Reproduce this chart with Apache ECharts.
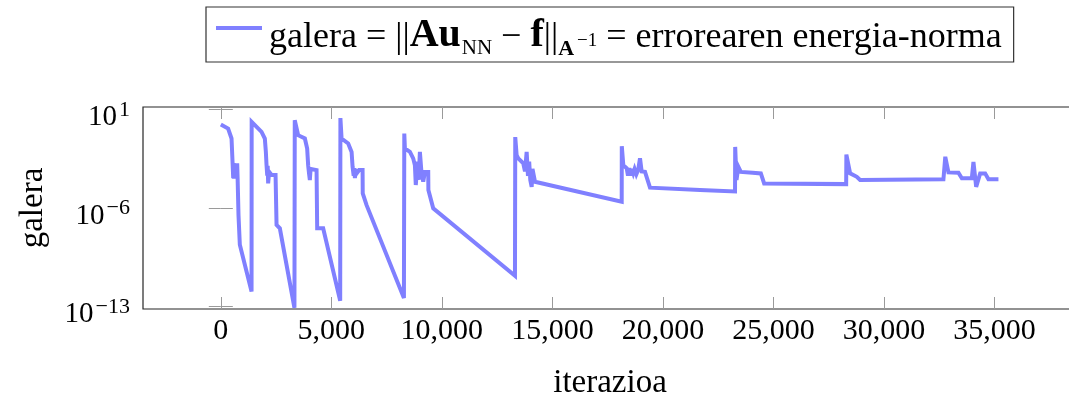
<!DOCTYPE html>
<html>
<head>
<meta charset="utf-8">
<script src="https://cdn.jsdelivr.net/npm/echarts@6/dist/echarts.min.js"></script>
<style>
html,body{margin:0;padding:0;background:#fff;}
#chart{width:1069px;height:396px;}
</style>
</head>
<body>
<div id="chart"></div>
<script>
// ---- data ----
const iterazioa = [
  0, 330, 484, 530, 560, 580, 600, 620, 640, 660, 680, 700, 720, 740, 760, 783, 800, 860, 1390,
  1395, 1842, 1991, 2037, 2068, 2100, 2120, 2141, 2186, 2295, 2476, 2521, 2670, 3330,
  3345, 3499, 3802, 3906, 3951, 3990, 4028, 4060, 4105, 4331, 4359, 4630, 5400,
  5410, 5463, 5762, 5916, 5961, 6010, 6040, 6065, 6120, 6155, 6259, 6413, 6420, 6594, 8283,
  8300, 8328, 8405, 8554, 8631, 8703, 8780, 8820, 8900, 8950, 9006, 9080, 9156, 9233, 9383, 9390, 9609, 13307,
  13320, 13383, 13456, 13682, 13760, 13836, 13895, 13950, 14000, 14063, 14100, 14135, 14212, 18136,
  18140, 18209, 18363, 18420, 18480, 18540, 18600, 18660, 18720, 18800, 18880, 18964, 19040, 19113, 19190, 19416, 21679, 23263,
  23270, 23330, 23413, 23526, 24055, 24431, 24580, 28291,
  28300, 28470, 28773, 28922, 32691, 32768,
  32775, 32918, 33370, 33524, 33976, 34049, 34172, 34353, 34579, 34728, 35180
];
const galera = [
  0.86, 0.45, 0.088, 1.9e-3, 1.3e-4, 1.6e-3, 1.2e-4, 1.4e-3, 1.3e-4, 1.5e-3, 1.2e-4, 1.4e-3, 1.3e-4, 1.5e-3, 1.2e-4, 1.3e-4, 3e-7, 2.4e-9, 1.15e-12,
  1.32, 0.26, 0.088, 9.8e-3, 1.1e-3, 2e-4, 1e-3, 5.6e-5, 3.7e-4, 2.2e-4, 2.2e-4, 6.3e-8, 3.6e-8, 8e-14,
  1.74, 0.15, 0.088, 0.017, 1.1e-3, 3e-4, 9.8e-5, 6e-4, 5e-4, 5e-4, 3.6e-8, 3.6e-8, 2.5e-13,
  2.5, 0.088, 0.039, 9.8e-3, 8.5e-4, 2e-4, 7e-4, 1.35e-4, 6e-4, 3e-4, 5e-4, 5e-4, 1.1e-5, 1.6e-6, 4e-13,
  0.2, 0.017, 0.013, 9.8e-3, 7.6e-3, 3.4e-3, 1.1e-3, 4.3e-5, 2e-3, 1e-4, 9.8e-3, 3e-4, 7.4e-5, 3.7e-4, 3.7e-4, 1.9e-5, 9.5e-7, 1.5e-11,
  0.11, 5.7e-3, 3.4e-3, 1.5e-3, 4e-4, 9.8e-3, 1.9e-4, 2e-3, 1e-4, 3.2e-5, 6e-4, 5e-4, 7.4e-5, 2.8e-6,
  0.025, 1.1e-3, 6.6e-4, 2e-4, 7e-4, 2e-4, 6e-4, 3e-4, 6e-4, 2.5e-4, 5e-4, 3.4e-3, 4e-4, 3.7e-4, 3.7e-4, 2.8e-5, 1.9e-5, 1.5e-5,
  0.022, 1e-4, 8.5e-4, 3.7e-4, 3.2e-4, 2.9e-4, 5.6e-5, 5e-5,
  6.3e-3, 2.9e-4, 1.65e-4, 9.8e-5, 1.1e-4, 9.8e-5,
  4.4e-3, 3.4e-4, 3.2e-4, 1.3e-4, 1.3e-4, 1.9e-3, 3.2e-5, 2.9e-4, 2.9e-4, 1.1e-4, 1.1e-4
];
const xTicks = [0, 5000, 10000, 15000, 20000, 25000, 30000, 35000];
const yTicks = [1e-13, 1e-6, 1e1];
const xRange = [-3521, 38734];
const yRangeExp = [-13.184, 1.184];

// ---- chart ----
const FONT = '"Liberation Serif", "DejaVu Serif", serif';
const chart = echarts.init(document.getElementById('chart'), null, {renderer: 'canvas'});
const seriesData = iterazioa.map((x, i) => [x, galera[i]]);

function fmtX(v) { return String(v).replace(/\B(?=(\d{3})+(?!\d))/g, ','); }
function fmtY(v) {
  const e = Math.round(Math.log10(v));
  return '{b|10}{s|' + (e < 0 ? '\u2212' + (-e) : e) + '}';
}

const tickStyle = {show: true, inside: true, length: 12, lineStyle: {color: '#9a9a9a', width: 1}};
const labelRichY = {
  b: {fontFamily: FONT, fontSize: 29, lineHeight: 29, color: '#000', verticalAlign: 'top', padding: [8, 0, 0, 0]},
  s: {fontFamily: FONT, fontSize: 22, lineHeight: 22, color: '#000', verticalAlign: 'top', padding: [4, 0, 11, 2]}
};
function tok(size, weight, pad) {
  return {fontFamily: FONT, fontSize: size, lineHeight: size, fontWeight: weight, color: '#000', verticalAlign: 'top', padding: pad};
}

const option = {
  animation: false,
  backgroundColor: '#fff',
  grid: {left: 143, right: -8, top: 107, bottom: 87, outerBoundsMode: 'none', containLabel: false,
         show: true, borderColor: '#262626', borderWidth: 1.2, backgroundColor: 'transparent'},
  legend: {
    left: 206, top: 7,
    padding: [1, 12, 2, 10],
    borderColor: '#333', borderWidth: 1.2,
    backgroundColor: '#fff',
    icon: 'rect', itemWidth: 46, itemHeight: 4,
    data: [{name: 'galera', itemStyle: {color: '#8080ff'}}],
    formatter: function () {
      return '{t0|galera = }{bar|||}{b|Au}{sub|NN}{t| \u2212 }{b|f}{bar|||}{bs|A}{sup|\u22121}{t| = errorearen energia-norma}';
    },
    textStyle: {
      fontFamily: FONT, fontSize: 36, color: '#000',
      rich: {
        t0: tok(36, 'normal', [11.5, 0, 4.5, 2]),
        t: tok(36, 'normal', [11.5, 0, 4.5, 0]),
        bar: tok(36, 'normal', [11.5, 0, 4.5, 0]),
        b: tok(40, 'bold', [8, 0, 4, 0]),
        sub: tok(21, 'normal', [30, 0, 1, 1]),
        bs: tok(22, 'bold', [30, 0, 0, 0]),
        sup: tok(19, 'normal', [24, 0, 9, 3])
      }
    }
  },
  xAxis: [
    {
      type: 'value', position: 'bottom', min: xRange[0], max: xRange[1],
      name: 'iterazioa', nameLocation: 'middle', nameGap: 58,
      nameTextStyle: {fontFamily: FONT, fontSize: 33, color: '#000'},
      axisLine: {show: false}, splitLine: {show: false},
      axisTick: Object.assign({customValues: xTicks}, tickStyle),
      axisLabel: {customValues: xTicks, formatter: fmtX, fontFamily: FONT, fontSize: 30, color: '#000', margin: 7}
    },
    {
      type: 'value', position: 'top', min: xRange[0], max: xRange[1],
      axisLine: {show: false}, splitLine: {show: false},
      axisTick: Object.assign({customValues: xTicks}, tickStyle),
      axisLabel: {show: false, customValues: xTicks}
    }
  ],
  yAxis: [
    {
      type: 'log', logBase: 10, position: 'left',
      min: Math.pow(10, yRangeExp[0]), max: Math.pow(10, yRangeExp[1]),
      name: 'galera', nameLocation: 'middle', nameGap: 93, nameRotate: 90,
      nameTextStyle: {fontFamily: FONT, fontSize: 33, color: '#000'},
      axisLine: {show: false}, splitLine: {show: false},
      axisTick: Object.assign({customValues: yTicks}, tickStyle),
      axisLabel: {customValues: yTicks, formatter: fmtY, margin: 13, rich: labelRichY}
    },
    {
      type: 'log', logBase: 10, position: 'right',
      min: Math.pow(10, yRangeExp[0]), max: Math.pow(10, yRangeExp[1]),
      axisLine: {show: false}, splitLine: {show: false},
      axisTick: Object.assign({customValues: yTicks}, tickStyle),
      axisLabel: {show: false, customValues: yTicks}
    }
  ],
  series: [{
    name: 'galera', type: 'line', xAxisIndex: 0, yAxisIndex: 0,
    data: seriesData, showSymbol: false, symbol: 'none',
    lineStyle: {color: '#8080ff', width: 4, join: 'miter', miterLimit: 4},
    itemStyle: {color: '#8080ff'},
    clip: true
  }]
};
chart.setOption(option);
</script>
</body>
</html>
